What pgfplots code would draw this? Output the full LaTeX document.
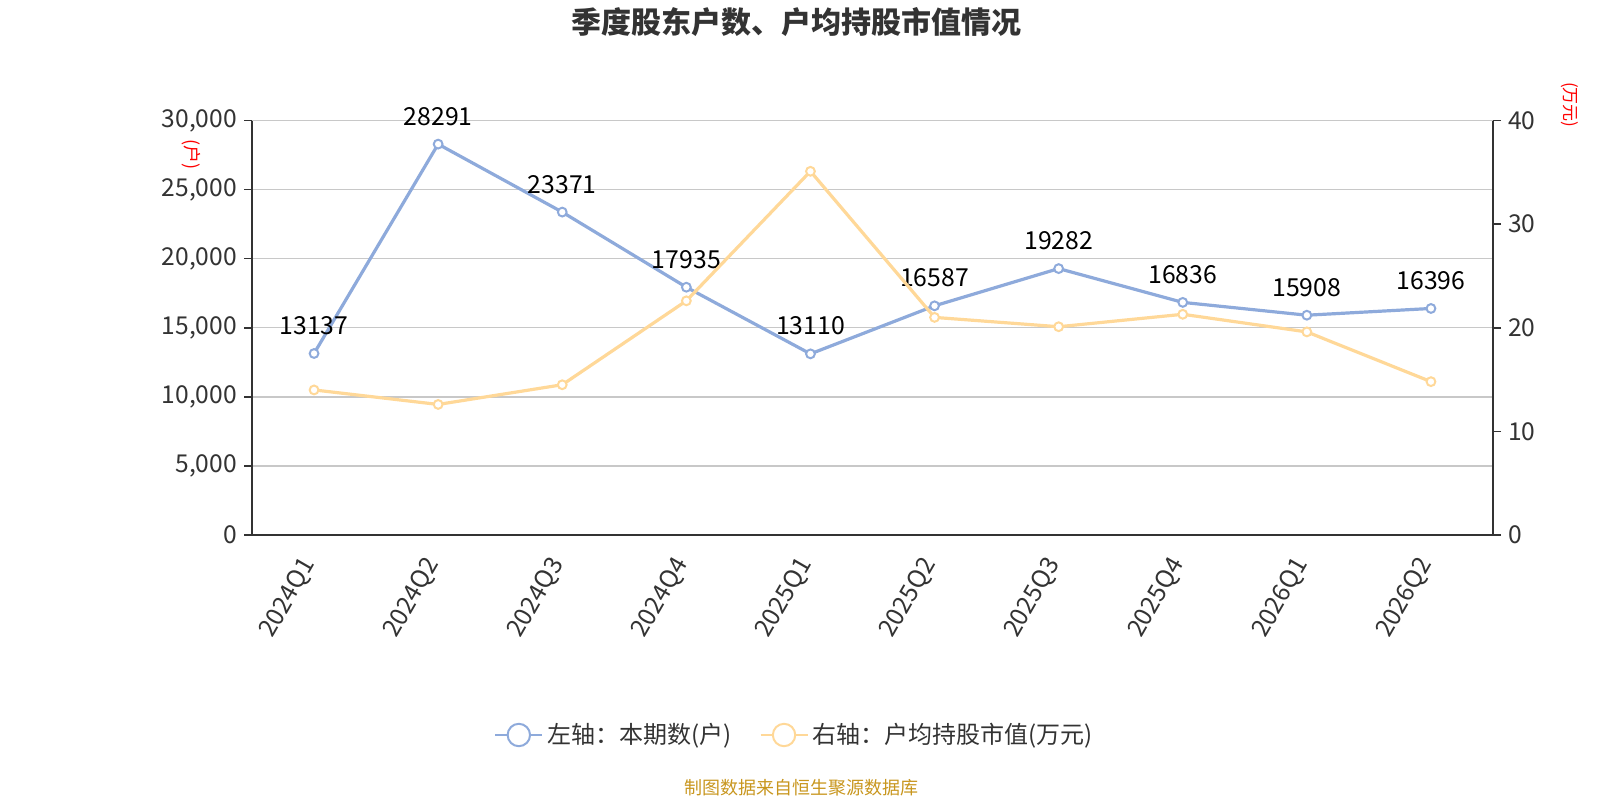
\documentclass[border=0pt]{standalone}
\usepackage{pgfplots}
\pgfplotsset{compat=1.18}
\usepackage{fontspec}
\setmainfont{Noto Sans CJK SC}
\definecolor{blueL}{HTML}{8EAADB}
\definecolor{yellowL}{HTML}{FFD898}
\definecolor{txt}{HTML}{333333}
\definecolor{gridc}{HTML}{C8C8C8}
\definecolor{srcc}{HTML}{C8961E}
\begin{document}
\begin{tikzpicture}
\path[use as bounding box] (0,0) rectangle (800pt,400pt);
\pgfplotsset{
  myaxis/.style={
    scale only axis, width=620.5pt, height=207.25pt,
    at={(126pt,132.5pt)}, anchor=south west,
    xmin=-0.5, xmax=9.5,
    axis line style={txt, line width=0.8pt},
    tick style={txt, line width=0.8pt},
    tick align=outside,
    major tick length=4pt,
    ticklabel style={font=\fontsize{12.3}{14}\selectfont, text=txt},
    /pgf/number format/assume math mode=true,
    /pgf/number format/1000 sep={,},
  },
}
\begin{axis}[myaxis,
  axis x line*=bottom, axis y line*=left,
  ymin=0, ymax=30000, ytick={0,5000,...,30000},
  scaled y ticks=false,
  ymajorgrids, grid style={gridc, line width=0.7pt},
  xtick={0,...,9},
  xticklabels={2024Q1,2024Q2,2024Q3,2024Q4,2025Q1,2025Q2,2025Q3,2025Q4,2026Q1,2026Q2},
  x tick style={draw=none},
  xticklabel style={rotate=60, anchor=east, inner sep=1pt, yshift=-2.5pt, xshift=-7.5pt},
  extra x ticks={-0.5,0.5,...,9.5},
  extra x tick labels={},
  extra x tick style={tick style={txt, line width=0.8pt, draw=txt}, xmajorgrids=false, major tick length=4pt},
  nodes near coords,
  every node near coord/.append style={font=\fontsize{12.4}{14}\selectfont, text=black, yshift=5.5pt},
  point meta=explicit symbolic,
]
\addplot[blueL, line width=1.6pt, mark=*, mark size=2.2pt, mark options={fill=white, line width=1pt}]
  coordinates {(0,13137)[13137] (1,28291)[28291] (2,23371)[23371] (3,17935)[17935] (4,13110)[13110]
  (5,16587)[16587] (6,19282)[19282] (7,16836)[16836] (8,15908)[15908] (9,16396)[16396]};
\end{axis}
\begin{axis}[myaxis,
  axis x line=none, axis y line*=right,
  ymin=0, ymax=40, ytick={0,10,...,40},
  legend columns=2,
  legend style={at={(0.438,-0.4825)}, anchor=center, draw=none, fill=none,
    font=\fontsize{12}{14}\selectfont, text=txt,
    /tikz/every even column/.append style={column sep=12pt}},
  legend cell align=left,
  legend image code/.code={
    \draw[#1, mark=none, line width=1pt] (0pt,0pt) -- (23.5pt,0pt);
    \draw[#1, fill=white, mark=none, line width=1pt] (11.75pt,0pt) circle (5.6pt);
  },
]
\addlegendimage{blueL}
\addlegendentry{左轴：本期数(户)}
\addplot[yellowL, line width=1.6pt, mark=*, mark size=2.2pt, mark options={fill=white, line width=1pt}]
  coordinates {(0,14.0) (1,12.6) (2,14.5) (3,22.6) (4,35.1) (5,21.0) (6,20.1) (7,21.3) (8,19.6) (9,14.8)};
\addlegendentry{右轴：户均持股市值(万元)}
\end{axis}
\node[font=\fontsize{15}{17}\selectfont\bfseries, text=txt] at (398pt,388.8pt) {季度股东户数、户均持股市值情况};
\node[font=\fontsize{9}{10}\selectfont, text=srcc] at (400.8pt,6pt) {制图数据来自恒生聚源数据库};
\node[font=\fontsize{9}{10}\selectfont, text=red, rotate=-90] at (95.5pt,322.5pt) {(户)};
\node[font=\fontsize{8.5}{10}\selectfont, text=red, rotate=-90] at (785pt,347.5pt) {(万元)};
\end{tikzpicture}
\end{document}
